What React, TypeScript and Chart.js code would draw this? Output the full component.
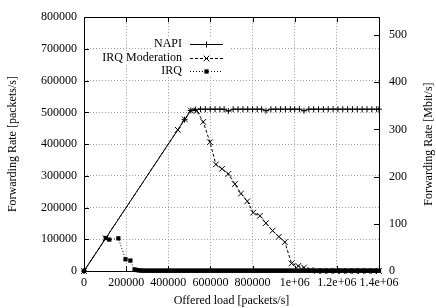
import React, { useEffect, useRef } from 'react';
import { Chart, registerables } from 'chart.js';

Chart.register(...registerables);

// ---- data ----
const napiX = [0, 477000, 507000, 530000, 553000, 576000, 599000, 622000, 645000, 665000, 685000, 708000, 731000, 754000, 777000, 800000, 822000, 843000, 864000, 887000, 910000, 933000, 956000, 979000, 1000000, 1022000, 1044000, 1067000, 1090000, 1113000, 1136000, 1159000, 1182000, 1205000, 1228000, 1251000, 1274000, 1297000, 1320000, 1343000, 1366000, 1389000, 1400000];
const napiY = [0, 477000, 506000, 509000, 510000, 510000, 510000, 510000, 510000, 510000, 504000, 510000, 510000, 510000, 510000, 510000, 510000, 510000, 505000, 510000, 510000, 510000, 510000, 510000, 510000, 510000, 505000, 510000, 510000, 510000, 510000, 510000, 510000, 510000, 510000, 510000, 510000, 510000, 510000, 510000, 510000, 510000, 510000];

const modX = [0, 103000, 445000, 478000, 507000, 535000, 566000, 598000, 626000, 655000, 685000, 716000, 745000, 775000, 803000, 835000, 863000, 895000, 925000, 953000, 985000, 1017000, 1044000, 1075000, 1105000, 1135000, 1165000, 1195000, 1225000, 1255000, 1285000, 1315000, 1345000, 1375000, 1400000];
const modY = [0, 103000, 445000, 478000, 506000, 505000, 470000, 406000, 336000, 322000, 306000, 274000, 244000, 220000, 184000, 174000, 151000, 127000, 108000, 91000, 24000, 16000, 11000, 3000, 0, 0, 0, 0, 0, 0, 0, 0, 0, 0, 0];

const irqX = [0, 103000, 120000, 163000, 197000, 220000, 240000, 250000,
  260000, 270000, 280000, 290000, 300000, 310000, 320000, 330000, 340000, 350000,
  360000, 370000, 380000, 390000, 400000, 410000, 420000, 430000, 440000, 450000,
  460000, 470000, 480000, 490000, 500000, 510000, 520000, 530000, 540000, 550000,
  560000, 570000, 580000, 590000, 600000, 610000, 620000, 630000, 640000, 650000,
  660000, 670000, 680000, 690000, 700000, 710000, 720000, 730000, 740000, 750000,
  760000, 770000, 780000, 790000, 800000, 810000, 820000, 830000, 840000, 850000,
  860000, 870000, 880000, 890000, 900000, 910000, 920000, 930000, 940000, 950000,
  960000, 970000, 980000, 990000, 1000000, 1010000, 1020000, 1030000, 1040000, 1050000,
  1060000, 1070000, 1080000, 1090000, 1100000, 1110000, 1120000, 1130000, 1140000, 1150000,
  1160000, 1170000, 1180000, 1190000, 1200000, 1210000, 1220000, 1230000, 1240000, 1250000,
  1260000, 1270000, 1280000, 1290000, 1300000, 1310000, 1320000, 1330000, 1340000, 1350000,
  1360000, 1370000, 1380000, 1390000, 1400000];
const irqY = [0, 104000, 99000, 103000, 37000, 33000, 5000, 3000,
  2000, 1500, 1000, 1000, 1000, 1000, 1000, 1000, 1000, 1000,
  1000, 1000, 1000, 1000, 1000, 1000, 1000, 1000, 1000, 1000,
  1000, 1000, 1000, 1000, 1000, 1000, 1000, 1000, 1000, 1000,
  1000, 1000, 1000, 1000, 1000, 1000, 1000, 1000, 1000, 1000,
  1000, 1000, 1000, 1000, 1000, 1000, 1000, 1000, 1000, 1000,
  1000, 1000, 1000, 1000, 1000, 1000, 1000, 1000, 1000, 1000,
  1000, 1000, 1000, 1000, 1000, 1000, 1000, 1000, 1000, 1000,
  1000, 1000, 1000, 1000, 1000, 1000, 1000, 1000, 1000, 1000,
  1000, 1000, 1000, 1000, 1000, 1000, 1000, 1000, 1000, 1000,
  1000, 1000, 1000, 1000, 1000, 1000, 1000, 1000, 1000, 1000,
  1000, 1000, 1000, 1000, 1000, 1000, 1000, 1000, 1000, 1000,
  1000, 1000, 1000, 1000, 1000];

const seriesLabels = ['NAPI', 'IRQ Moderation', 'IRQ'];
const xTickValues = [0, 200000, 400000, 600000, 800000, 1000000, 1200000, 1400000];
const xTickLabels = ['0', '200000', '400000', '600000', '800000', '1e+06', '1.2e+06', '1.4e+06'];
const y2TickLabels = ['0', '100', '200', '300', '400', '500'];
const xTitle = 'Offered load [packets/s]';
const yTitle = 'Forwarding Rate [packets/s]';
const y2Title = 'Forwarding Rate [Mbit/s]';
const yMax = 800000;
const y2Max = 537.6; // 800000 pkt/s * 84 B * 8 bit

const FONT = "'Liberation Serif', 'DejaVu Serif', serif";

function pts(xs: number[], ys: number[]) {
  return xs.map((x, i) => ({ x, y: ys[i] }));
}

const decor = {
  id: 'gnuplotDecor',
  afterDraw(chart: any) {
    const ctx = chart.ctx as CanvasRenderingContext2D;
    const a = chart.chartArea;
    const xs = chart.scales.x;
    const ys = chart.scales.y;
    const y2 = chart.scales.y2;
    ctx.save();
    ctx.strokeStyle = '#000';
    ctx.lineWidth = 1;
    ctx.setLineDash([]);
    // inward ticks
    ctx.beginPath();
    ys.ticks.forEach((t: any) => {
      const y = Math.round(ys.getPixelForValue(t.value)) + 0.5;
      ctx.moveTo(a.left, y); ctx.lineTo(a.left + 5, y);
    });
    y2.ticks.forEach((t: any) => {
      const y = Math.round(y2.getPixelForValue(t.value)) + 0.5;
      ctx.moveTo(a.right, y); ctx.lineTo(a.right - 5, y);
    });
    xTickValues.forEach((v) => {
      const x = Math.round(xs.getPixelForValue(v)) + 0.5;
      ctx.moveTo(x, a.bottom); ctx.lineTo(x, a.bottom - 5);
      ctx.moveTo(x, a.top); ctx.lineTo(x, a.top + 5);
    });
    ctx.stroke();
    // border box
    ctx.strokeRect(Math.round(a.left) + 0.5, Math.round(a.top) + 0.5, Math.round(a.right - a.left), Math.round(a.bottom - a.top));

    // legend
    ctx.font = `12px ${FONT}`;
    ctx.textBaseline = 'middle';
    ctx.textAlign = 'right';
    const textRight = 182;
    const sx0 = 190, sx1 = 223;
    const rowY = [44, 57.5, 70.5];
    const dashes = [[], [3, 2], [1, 2]];
    const styles = ['cross', 'crossRot', 'rect'];
    const radii = [3, 4, 3];
    seriesLabels.forEach((label, i) => {
      const w = ctx.measureText(label).width;
      ctx.fillStyle = '#fff';
      ctx.fillRect(textRight - w - 2, rowY[i] - 6.5, sx1 + 6 - (textRight - w - 2), 13);
    });
    seriesLabels.forEach((label, i) => {
      const y = rowY[i];
      ctx.fillStyle = '#000';
      ctx.fillText(label, textRight, y);
      ctx.beginPath();
      ctx.setLineDash(dashes[i]);
      ctx.moveTo(sx0, Math.round(y) + 0.5);
      ctx.lineTo(sx1, Math.round(y) + 0.5);
      ctx.stroke();
      ctx.setLineDash([]);
      const mx = (sx0 + sx1) / 2;
      const my = Math.round(y) + 0.5;
      ctx.beginPath();
      if (styles[i] === 'cross') {
        ctx.moveTo(mx - 3, my); ctx.lineTo(mx + 3, my);
        ctx.moveTo(mx, my - 3); ctx.lineTo(mx, my + 3);
        ctx.stroke();
      } else if (styles[i] === 'crossRot') {
        const d = radii[i] * Math.SQRT1_2;
        ctx.moveTo(mx - d, my - d); ctx.lineTo(mx + d, my + d);
        ctx.moveTo(mx - d, my + d); ctx.lineTo(mx + d, my - d);
        ctx.stroke();
      } else {
        const s = radii[i] * Math.SQRT1_2;
        ctx.fillRect(mx - s, my - s, 2 * s, 2 * s);
      }
    });

    // titles
    ctx.fillStyle = '#000';
    ctx.textAlign = 'center';
    ctx.textBaseline = 'middle';
    ctx.fillText(xTitle, (a.left + a.right) / 2, 301);
    const cy = (a.top + a.bottom) / 2;
    ctx.save();
    ctx.translate(13, cy);
    ctx.rotate(-Math.PI / 2);
    ctx.fillText(yTitle, 0, 0);
    ctx.restore();
    ctx.save();
    ctx.translate(429, cy);
    ctx.rotate(-Math.PI / 2);
    ctx.fillText(y2Title, 0, 0);
    ctx.restore();
    ctx.restore();
  },
};

export default function App() {
  const ref = useRef<HTMLCanvasElement | null>(null);
  useEffect(() => {
    if (!ref.current) return;
    const tickFont = { family: FONT, size: 12 };
    const chart = new Chart(ref.current, {
      type: 'line',
      data: {
        datasets: [
          {
            label: seriesLabels[0],
            data: pts(napiX, napiY),
            borderColor: '#000',
            backgroundColor: '#000',
            borderWidth: 1,
            pointStyle: 'cross',
            pointRadius: 3,
            pointBorderWidth: 1,
            pointBorderColor: '#000',
            tension: 0,
            clip: false,
          } as any,
          {
            label: seriesLabels[1],
            data: pts(modX, modY),
            borderColor: '#000',
            backgroundColor: '#000',
            borderWidth: 1,
            borderDash: [3, 2],
            pointStyle: 'crossRot',
            pointRadius: 4,
            pointBorderWidth: 1,
            pointBorderColor: '#000',
            tension: 0,
            clip: false,
          } as any,
          {
            label: seriesLabels[2],
            data: pts(irqX, irqY),
            borderColor: '#000',
            backgroundColor: '#000',
            borderWidth: 1,
            borderDash: [1, 2],
            pointStyle: 'rect',
            pointRadius: 3,
            pointBorderWidth: 0,
            pointBackgroundColor: '#000',
            tension: 0,
            clip: false,
          } as any,
        ],
      },
      options: {
        animation: false,
        responsive: false,
        devicePixelRatio: 1,
        layout: { padding: { left: 0, right: 0, top: 13, bottom: 0 } },
        plugins: { legend: { display: false }, tooltip: { enabled: false } },
        scales: {
          x: {
            type: 'linear',
            min: 0,
            max: 1400000,
            afterFit: (s: any) => { s.height = 37; },
            afterBuildTicks: (s: any) => { s.ticks = xTickValues.map((v) => ({ value: v })); },
            ticks: {
              font: tickFont,
              color: '#000',
              padding: 5,
              maxRotation: 0,
              autoSkip: false,
              callback: (v: any) => xTickLabels[xTickValues.indexOf(Number(v))] ?? '',
            },
            grid: { color: '#9a9a9a', drawTicks: false, lineWidth: 1 },
            border: { display: false, dash: [1, 2] },
          },
          y: {
            type: 'linear',
            position: 'left',
            min: 0,
            max: yMax,
            afterFit: (s: any) => { s.width = 84; },
            ticks: {
              stepSize: 100000,
              font: tickFont,
              color: '#000',
              padding: 7,
              callback: (v: any) => String(v),
            },
            grid: { color: '#9a9a9a', drawTicks: false, lineWidth: 1 },
            border: { display: false, dash: [1, 2] },
          },
          y2: {
            type: 'linear',
            position: 'right',
            min: 0,
            max: y2Max,
            afterFit: (s: any) => { s.width = 57; },
            ticks: {
              stepSize: 100,
              includeBounds: false,
              font: tickFont,
              color: '#000',
              padding: 10,
              callback: (v: any) => y2TickLabels[Math.round(Number(v) / 100)] ?? '',
            },
            grid: { display: false, drawTicks: false },
            border: { display: false },
          },
        },
      } as any,
      plugins: [decor],
    });
    return () => chart.destroy();
  }, []);
  return (
    <canvas
      ref={ref}
      width={436}
      height={308}
      style={{ position: 'absolute', left: 0, top: 0, width: 436, height: 308, display: 'block', background: '#fff' }}
    />
  );
}
